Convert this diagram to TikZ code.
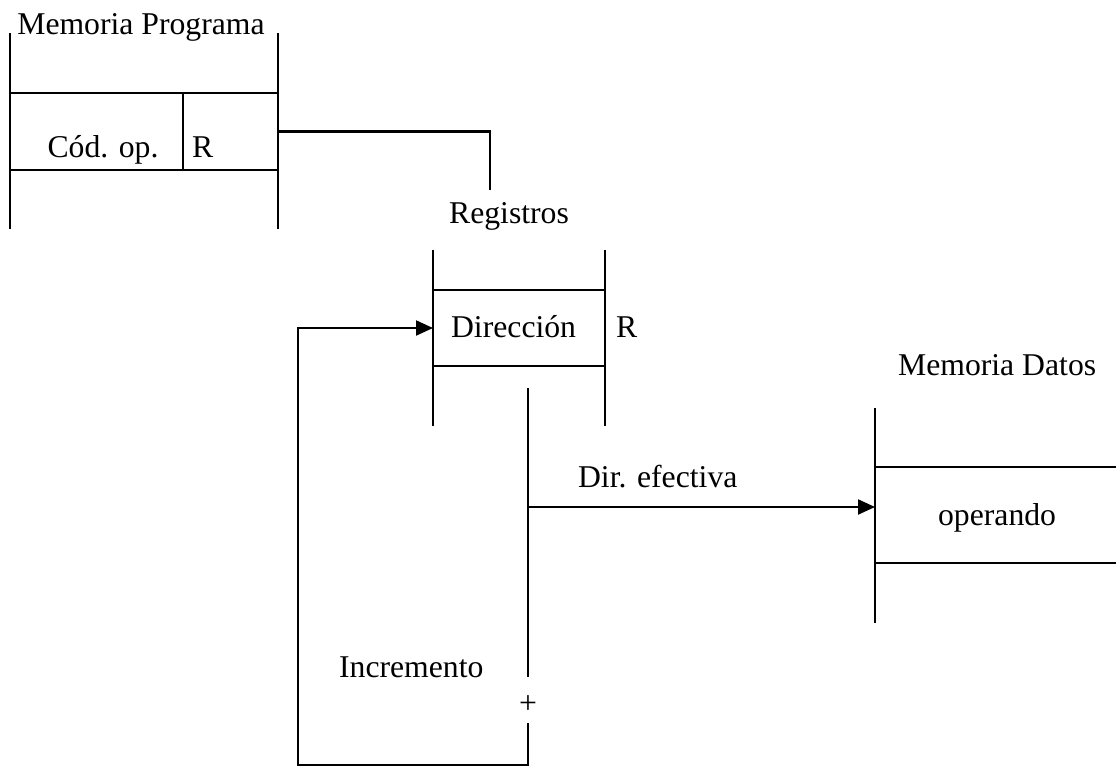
\documentclass[tikz,border=0pt]{standalone}
\usepackage{fontspec}
\setmainfont{Liberation Serif}
\usetikzlibrary{arrows.meta}
\begin{document}
\begin{tikzpicture}[x=1pt,y=-1pt,line width=2.2pt,
  lbl/.style={font=\fontsize{31.7}{38}\selectfont,inner sep=0pt},
  cell/.style={inner sep=0pt,outer sep=0pt},
  arr/.style={-{Triangle[length=17pt,width=15pt]}}]
\useasboundingbox (0,0) rectangle (1116,766);

% --- program memory ---
\node[cell,minimum width=173pt,minimum height=77pt] (cop) at (96.5,131.5) {};
\node[cell,minimum width=95pt,minimum height=77pt] (pmr) at (230.5,131.5) {};
\draw (10,33) -- (10,229);
\draw (278,33) -- (278,229);
\draw (10,93) -- (278,93);
\draw (10,170) -- (278,170);
\draw (183,93) -- (183,170);
\node[lbl,anchor=base] (pmtitle) at (141,34) {Memoria Programa};
\node[lbl,anchor=base] (coptxt) at (103,157) {Cód. op.};
\node[lbl,anchor=base west] (rtxt) at (191,157) {R};

% --- registers ---
\node[cell,minimum width=172pt,minimum height=76pt] (dir) at (519,328) {};
\draw (433,250) -- (433,426);
\draw (605,250) -- (605,426);
\draw (433,290) -- (605,290);
\draw (433,366) -- (605,366);
\node[lbl,anchor=base] (regtitle) at (509,223) {Registros};
\node[lbl,anchor=base west] (dirtxt) at (450,337) {Dirección};
\node[lbl,anchor=base west] (regr) at (615,337) {R};

% register field selects a register
\coordinate (regsel) at (490,190);
\draw (pmr.east) -| (regsel);

% --- data memory ---
\node[cell,minimum width=241pt,minimum height=96pt] (opnd) at (995.5,515) {};
\draw (875,408) -- (875,623);
\draw (875,467) -- (1116,467);
\draw (875,563) -- (1116,563);
\node[lbl,anchor=base west] (dmtitle) at (897,375) {Memoria Datos};
\node[lbl,anchor=base west] (optxt) at (937,525) {operando};

% --- effective address and increment loop ---
\coordinate (dtop) at (528,388);
\coordinate (tap) at (528,507);
\coordinate (dlow) at (528,677);
\node[lbl] (plus) at (528,705) {+};
\coordinate (pbot) at (528,723);
\coordinate (br) at (528,765);
\coordinate (bl) at (298,765);

\draw (dtop) -- (dlow);
\draw[arr] (tap) -- (tap -| opnd.west);
\node[lbl,anchor=base west] (eff) at (577,487) {Dir. efectiva};
\draw[arr] (pbot) -- (br) -- (bl) |- (dir.west);
\node[lbl,anchor=base west] (inc) at (338,677) {Incremento};
\end{tikzpicture}
\end{document}
